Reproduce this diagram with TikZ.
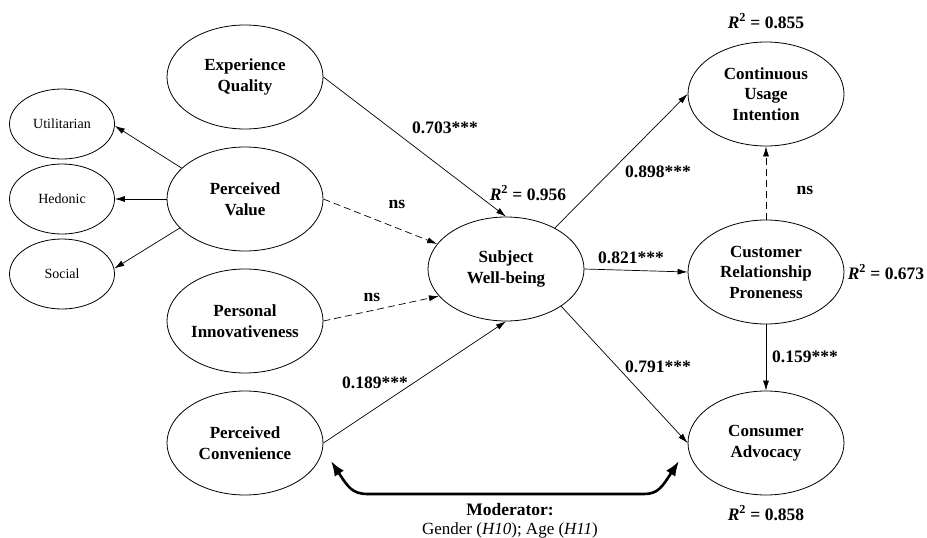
\documentclass[tikz,border=0pt]{standalone}
\usepackage{fontspec}
\setmainfont{Liberation Serif}
\usetikzlibrary{shapes.geometric,arrows.meta}
\begin{document}
\begin{tikzpicture}[x=1pt,y=-1pt,
 big/.style={ellipse,draw,line width=0.8pt,minimum width=156pt,minimum height=104pt,inner sep=0pt,align=center,font=\fontsize{17}{20.5}\selectfont\bfseries},
 small/.style={ellipse,draw,line width=0.8pt,minimum width=105pt,minimum height=70pt,inner sep=0pt,font=\fontsize{14}{17}\selectfont},
 lab/.style={font=\fontsize{17.5}{21}\selectfont\bfseries,inner sep=0pt},
 arr/.style={-{Latex[length=10pt,width=6pt]},line width=0.7pt},
 dsh/.style={arr,dash pattern=on 7pt off 4pt},
 mod/.style={{Latex[length=15pt,width=11pt]}-{Latex[length=15pt,width=11pt]},line width=2.6pt}]
\useasboundingbox (0,0) rectangle (927,538);
% nodes
\node[big] (eq) at (245,77) {Experience\\Quality};
\node[big] (pv) at (245,199) {Perceived\\Value};
\node[big] (pi) at (245,321) {Personal\\Innovativeness};
\node[big] (pc) at (245,443) {Perceived\\Convenience};
\node[small] (ut) at (62,124) {Utilitarian};
\node[small] (he) at (62,199) {Hedonic};
\node[small] (so) at (62,274) {Social};
\node[big] (sw) at (506,269) {Subject\\Well-being};
\node[big] (cui) at (766,94) {Continuous\\Usage\\Intention};
\node[big] (crp) at (766,272) {Customer\\Relationship\\Proneness};
\node[big] (ca) at (766,443) {Consumer\\Advocacy};
% connectors
\draw[arr] (eq.east) -- (sw.north);
\draw[arr] (pv.154) -- (ut.-2);
\draw[arr] (pv.west) -- (he.east);
\draw[arr] (pv.204) -- (so.6);
\draw[dsh] (pv.east) -- (sw.160);
\draw[dsh] (pi.east) -- (sw.202);
\draw[arr] (pc.east) -- (sw.south);
\draw[arr] (sw.40) -- (cui.west);
\draw[arr] (sw.east) -- (crp.west);
\draw[arr] (sw.-34) -- (ca.west);
\draw[dsh] (crp.north) -- (cui.south);
\draw[arr] (crp.south) -- (ca.north);
% moderator
\coordinate (m1) at (331,461);
\coordinate (m2) at (679,461);
\draw[mod] (m1) .. controls (348,487) and (352,494) .. (368,494) -- (644,494) .. controls (658,494) and (662,487) .. (m2);
% labels
\node[lab] (l1) at (445,128) {0.703***};
\node[lab] (l2) at (397,204) {ns};
\node[lab] (l3) at (372,297) {ns};
\node[lab] (l4) at (375,383) {0.189***};
\node[lab] (l5) at (528,193) {\textit{R}\textsuperscript{2} = 0.956};
\node[lab] (l6) at (658,172) {0.898***};
\node[lab] (l7) at (631,258) {0.821***};
\node[lab] (l8) at (658,367) {0.791***};
\node[lab] (l9) at (805,357) {0.159***};
\node[lab] (l10) at (805,190) {ns};
\node[lab] (l11) at (766,21) {\textit{R}\textsuperscript{2} = 0.855};
\node[lab] (l12) at (886,272) {\textit{R}\textsuperscript{2} = 0.673};
\node[lab] (l13) at (766,513) {\textit{R}\textsuperscript{2} = 0.858};
\node[lab] (l14) at (510,510) {Moderator:};
\node[inner sep=0pt,font=\fontsize{17}{20}\selectfont] (l15) at (510,530) {Gender (\textit{H10}); Age (\textit{H11})};
\end{tikzpicture}
\end{document}
